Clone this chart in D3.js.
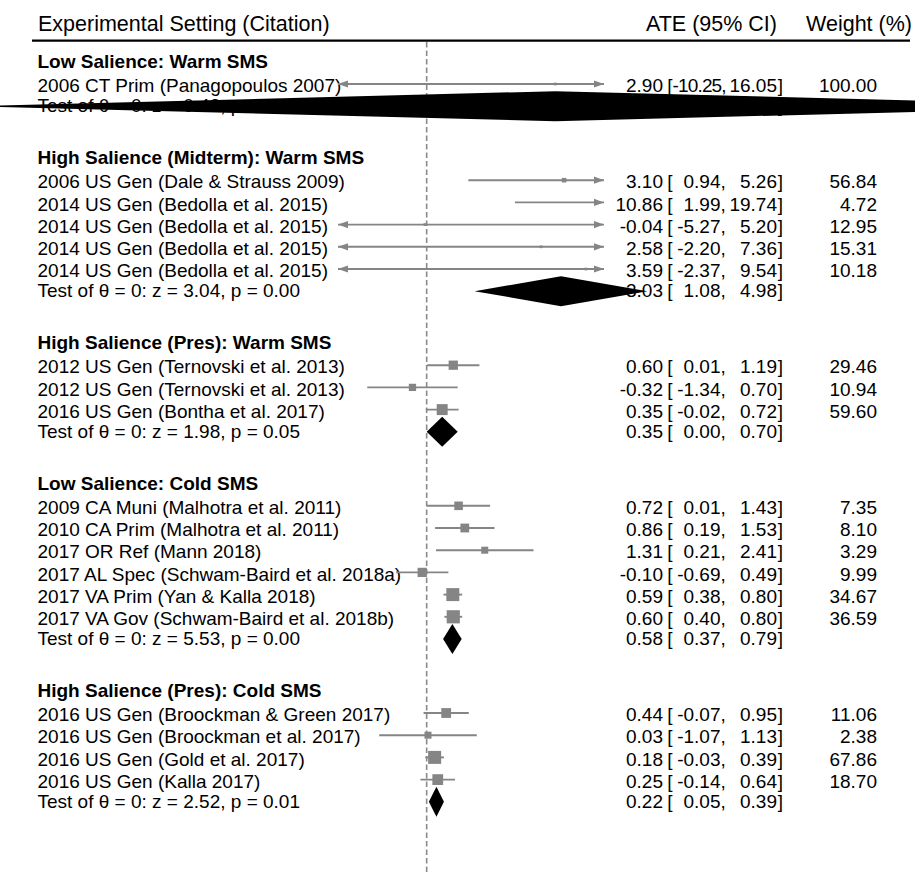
<!DOCTYPE html>
<html>
<head>
<meta charset="utf-8">
<script src="https://cdn.jsdelivr.net/npm/d3@7"></script>
<style>
  body { margin: 0; background: #fff; }
  svg { display: block; background: #fff; }
  text { font-family: "Liberation Sans", Arial, Helvetica, sans-serif; fill: #000; }
</style>
</head>
<body>
<svg id="chart" width="915" height="875"></svg>
<script>
// ---- data -------------------------------------------------------------
const columnTitles = ["Experimental Setting (Citation)", "ATE (95% CI)", "Weight (%)"];

const groupTitles = [
  "Low Salience: Warm SMS",
  "High Salience (Midterm): Warm SMS",
  "High Salience (Pres): Warm SMS",
  "Low Salience: Cold SMS",
  "High Salience (Pres): Cold SMS"
];
const groupSizes = [1, 5, 3, 6, 4];

const studyLabels = [
  "2006 CT Prim (Panagopoulos 2007)",
  "2006 US Gen (Dale & Strauss 2009)",
  "2014 US Gen (Bedolla et al. 2015)",
  "2014 US Gen (Bedolla et al. 2015)",
  "2014 US Gen (Bedolla et al. 2015)",
  "2014 US Gen (Bedolla et al. 2015)",
  "2012 US Gen (Ternovski et al. 2013)",
  "2012 US Gen (Ternovski et al. 2013)",
  "2016 US Gen (Bontha et al. 2017)",
  "2009 CA Muni (Malhotra et al. 2011)",
  "2010 CA Prim (Malhotra et al. 2011)",
  "2017 OR Ref (Mann 2018)",
  "2017 AL Spec (Schwam-Baird et al. 2018a)",
  "2017 VA Prim (Yan & Kalla 2018)",
  "2017 VA Gov (Schwam-Baird et al. 2018b)",
  "2016 US Gen (Broockman & Green 2017)",
  "2016 US Gen (Broockman et al. 2017)",
  "2016 US Gen (Gold et al. 2017)",
  "2016 US Gen (Kalla 2017)"
];
const studyATE    = [2.90, 3.10, 10.86, -0.04, 2.58, 3.59, 0.60, -0.32, 0.35, 0.72, 0.86, 1.31, -0.10, 0.59, 0.60, 0.44, 0.03, 0.18, 0.25];
const studyLow    = [-10.25, 0.94, 1.99, -5.27, -2.20, -2.37, 0.01, -1.34, -0.02, 0.01, 0.19, 0.21, -0.69, 0.38, 0.40, -0.07, -1.07, -0.03, -0.14];
const studyHigh   = [16.05, 5.26, 19.74, 5.20, 7.36, 9.54, 1.19, 0.70, 0.72, 1.43, 1.53, 2.41, 0.49, 0.80, 0.80, 0.95, 1.13, 0.39, 0.64];
const studyWeight = [100.00, 56.84, 4.72, 12.95, 15.31, 10.18, 29.46, 10.94, 59.60, 7.35, 8.10, 3.29, 9.99, 34.67, 36.59, 11.06, 2.38, 67.86, 18.70];

const pooledATE  = [2.90, 3.03, 0.35, 0.58, 0.22];
const pooledLow  = [-10.25, 1.08, 0.00, 0.37, 0.05];
const pooledHigh = [16.05, 4.98, 0.70, 0.79, 0.39];
const testZ = [0.43, 3.04, 1.98, 5.53, 2.52];
const testP = [0.67, 0.00, 0.05, 0.00, 0.01];

const xDomain = [-2, 4];

// ---- layout -----------------------------------------------------------
const W = 915, H = 875;
const svg = d3.select("#chart");

const x = d3.scaleLinear().domain(xDomain).range([338, 604]);

// marker side grows with study precision (1 / SE)
const precision = (lo, hi) => 3.92 / (hi - lo);
const side = d3.scaleLog().domain([1.78, 9.35]).range([7, 13]);
const markerSide = (lo, hi) => Math.max(2.7, side(precision(lo, hi)));

const rowStep = 22.2, groupGap = 74, firstRowY = 84, headOffset = 23;
const labelX = 37.5;
const estX = 663, brX = 667.2, lbX = 720.5, ubX = 777, wtX = 877;
const fs = 19, headFs = 21.5;

const headings = [], studies = [], tests = [];
let yCursor = firstRowY, k = 0;
groupTitles.forEach((title, g) => {
  headings.push({ label: title, y: yCursor - headOffset });
  for (let i = 0; i < groupSizes[g]; i++, k++) {
    studies.push({
      label: studyLabels[k], ate: studyATE[k], lo: studyLow[k], hi: studyHigh[k],
      w: studyWeight[k], y: yCursor
    });
    yCursor += rowStep;
  }
  tests.push({
    label: `Test of θ = 0: z = ${testZ[g].toFixed(2)}, p = ${testP[g].toFixed(2)}`,
    ate: pooledATE[g], lo: pooledLow[g], hi: pooledHigh[g], y: yCursor
  });
  yCursor += groupGap;
});

const fmt = v => v.toFixed(2);

// ---- column header ----------------------------------------------------
const header = svg.append("g").attr("font-size", headFs);
header.append("text").attr("x", 38).attr("y", 30.7).text(columnTitles[0]);
header.append("text").attr("x", 777).attr("y", 30.7).attr("text-anchor", "end").text(columnTitles[1]);
header.append("text").attr("x", 912).attr("y", 30.7).attr("text-anchor", "end").text(columnTitles[2]);
svg.append("line")
  .attr("x1", 32).attr("x2", 910).attr("y1", 40.6).attr("y2", 40.6)
  .attr("stroke", "#000").attr("stroke-width", 2.2);

// ---- no-effect reference line -----------------------------------------
svg.append("line")
  .attr("x1", x(0)).attr("x2", x(0)).attr("y1", 42).attr("y2", H)
  .attr("stroke", "#8a8a8a").attr("stroke-width", 1.6)
  .attr("stroke-dasharray", "5.5,3");

// ---- left column text -------------------------------------------------
svg.append("g").selectAll("text").data(headings).join("text")
  .attr("x", labelX).attr("y", d => d.y + 6.8)
  .attr("font-size", fs).attr("font-weight", "bold")
  .text(d => d.label);

svg.append("g").selectAll("text").data(studies).join("text")
  .attr("x", labelX).attr("y", d => d.y + 8.2)
  .attr("font-size", fs).text(d => d.label);

svg.append("g").selectAll("text").data(tests).join("text")
  .attr("x", labelX).attr("y", d => d.y + 6.2)
  .attr("font-size", fs).text(d => d.label);

// ---- right column text: estimate [lower, upper] -----------------------
function ciText(sel, rows, dy) {
  const r = sel.append("g").attr("font-size", fs)
    .selectAll("g").data(rows).join("g")
    .attr("transform", d => `translate(0,${d.y + dy})`);
  r.append("text").attr("x", estX).attr("text-anchor", "end").text(d => fmt(d.ate));
  const br = r.append("text").attr("x", brX).text("[");
  // lower bound and its comma; the number's right edge sits at lbX
  const lb = r.append("text").attr("text-anchor", "end").text(d => fmt(d.lo) + ",");
  const probe = r.filter((d, i) => i === 0).append("text").text(",");
  const commaW = probe.node().getComputedTextLength();
  probe.remove();
  const right = lbX + commaW;
  const room = right - brX - br.node().getComputedTextLength();
  lb.attr("x", right).each(function () {
    const w = this.getComputedTextLength();
    const n = this.textContent.length;
    // a wide bound is tightened so it still fits between "[" and the comma
    if (w > room) d3.select(this).attr("letter-spacing", -(w - room) / n);
  });
  r.append("text").attr("x", ubX).attr("text-anchor", "end").text(d => fmt(d.hi));
  r.append("text").attr("x", ubX + 0.8).text("]");
  return r;
}
ciText(svg, studies, 8.2)
  .append("text").attr("x", wtX).attr("text-anchor", "end").text(d => fmt(d.w));
ciText(svg, tests, 6.2);

// ---- study confidence intervals and markers ---------------------------
const grey = "#858585";
const [xmin, xmax] = xDomain;
const ci = svg.append("g");
studies.forEach(d => {
  const lo = Math.max(d.lo, xmin), hi = Math.min(d.hi, xmax);
  ci.append("line")
    .attr("x1", x(lo)).attr("x2", x(hi)).attr("y1", d.y).attr("y2", d.y)
    .attr("stroke", grey).attr("stroke-width", 1.9);
  if (d.lo < xmin) {
    const t = x(xmin);
    ci.append("path").attr("fill", grey)
      .attr("d", `M${t},${d.y}L${t + 10},${d.y - 3.6}L${t + 10},${d.y + 3.6}Z`);
  }
  if (d.hi > xmax) {
    const t = x(xmax);
    ci.append("path").attr("fill", grey)
      .attr("d", `M${t},${d.y}L${t - 10},${d.y - 3.6}L${t - 10},${d.y + 3.6}Z`);
  }
  if (d.ate >= xmin && d.ate <= xmax) {
    const s = markerSide(d.lo, d.hi);
    ci.append("rect")
      .attr("x", x(d.ate) - s / 2).attr("y", d.y - s / 2)
      .attr("width", s).attr("height", s).attr("fill", grey);
  }
});

// ---- pooled estimates (diamonds) --------------------------------------
const halfH = 15;
svg.append("g").selectAll("path").data(tests).join("path")
  .attr("fill", "#000")
  .attr("d", d => `M${x(d.lo)},${d.y}L${x(d.ate)},${d.y - halfH}L${x(d.hi)},${d.y}L${x(d.ate)},${d.y + halfH}Z`);
</script>
</body>
</html>
